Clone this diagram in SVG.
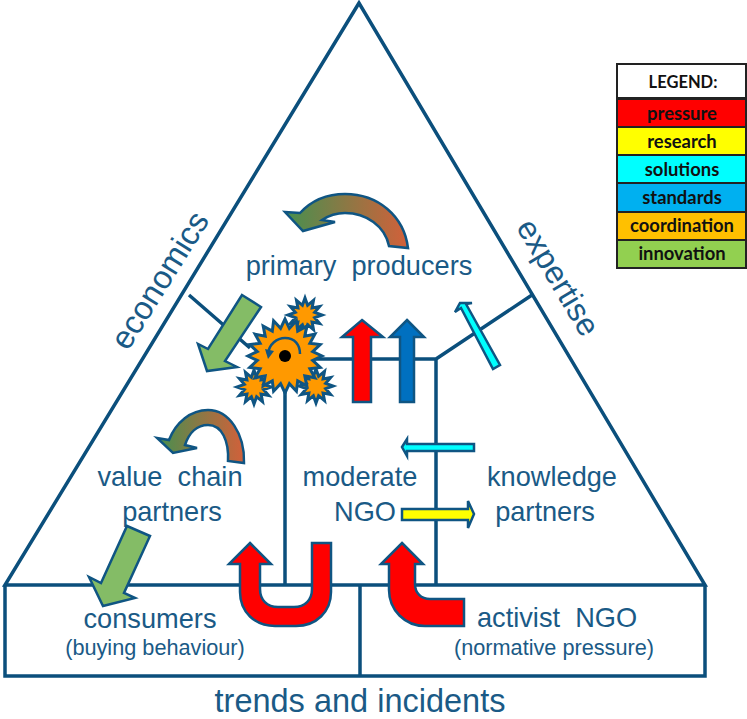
<svg xmlns="http://www.w3.org/2000/svg" width="747" height="719" viewBox="0 0 747 719">
<style>
.ln{fill:none;stroke:#0b4f7c;stroke-width:3.5}
.ar{stroke:#0f5583;stroke-width:2.5;stroke-linejoin:miter}
.lb{font-family:"Liberation Sans",Arial,sans-serif;fill:#1a5a86;font-size:27.2px;text-anchor:middle;white-space:pre}
.sm{font-size:21.7px}
.lg{font-family:Lato,"Open Sans",sans-serif;font-weight:700;font-size:18.4px;fill:#111;text-anchor:middle}
.gear{fill:#ff9900;stroke:#0f5583;stroke-width:3;stroke-linejoin:miter}
</style>
<defs>
<linearGradient id="cg" x1="0" y1="0" x2="1" y2="0"><stop offset="0" stop-color="#46904f"/><stop offset="1" stop-color="#d2603a"/></linearGradient>
<polygon id="star" class="gear" points="17,0 9.7,2.6 14.7,8.5 7.1,7.1 8.5,14.7 2.6,9.7 0,17 -2.6,9.7 -8.5,14.7 -7.1,7.1 -14.7,8.5 -9.7,2.6 -17,0 -9.7,-2.6 -14.7,-8.5 -7.1,-7.1 -8.5,-14.7 -2.6,-9.7 0,-17 2.6,-9.7 8.5,-14.7 7.1,-7.1 14.7,-8.5 9.7,-2.6"/>
</defs>
<g id="connectors">
<path class="ln" d="M359 3L5 585H705L359 3Z"/>
<path class="ln" d="M5 585V676H705V585M360 585V676"/>
<path class="ln" d="M189 295L250 348M285 385V585M315 359H436V585M436 359L532 295"/>
</g>
<g id="triangle-labels">
<text class="lb" transform="translate(169 286) rotate(-58)" style="font-size:32.5px">economics</text>
<text class="lb" transform="translate(549 283) rotate(59)" style="font-size:32px">expertise</text>
</g>
<g id="primary-producers">
<text class="lb" x="359" y="275">primary  producers</text>
<path class="ar" fill="url(#cg)" d="M285 212L300 213C312 200 328 194 345 194C378 194 404 216 408 248L389 246C385 226 366 213 345 213C336 213 328 216 322 220L335 222L303 231Z"/>
</g>
<g id="value-chain-partners">
<text class="lb" x="170" y="486">value  chain</text>
<text class="lb" x="172" y="521">partners</text>
<path class="ar" fill="url(#cg)" d="M157 438L169 440C176 422 191 410 208 410C229 410 245 434 244 463L228 461C229 441 222 425 208 425C197 425 189 433 185 445L197 448L173 453Z"/>
</g>
<g id="moderate-ngo">
<text class="lb" x="360" y="486">moderate</text>
<text class="lb" x="365" y="521">NGO</text>
</g>
<g id="knowledge-partners">
<text class="lb" x="552" y="486">knowledge</text>
<text class="lb" x="545" y="521">partners</text>
</g>
<g id="consumers">
<text class="lb" x="150" y="628">consumers</text>
<text class="lb sm" x="155" y="655">(buying behaviour)</text>
</g>
<g id="activist-ngo">
<text class="lb" x="557" y="627">activist  NGO</text>
<text class="lb sm" x="554" y="655">(normative pressure)</text>
</g>
<g id="trends">
<text class="lb" x="360" y="712" style="font-size:32.5px">trends and incidents</text>
</g>
<g id="coordination-gears">
<use href="#star" x="305" y="315"/>
<use href="#star" x="254" y="387"/>
<use href="#star" x="316" y="386"/>
<polygon class="gear" transform="translate(285 356)" points="37,0 27.7,4.4 35.2,11.4 24.9,12.7 29.9,21.8 19.8,19.8 21.8,29.9 12.7,24.9 11.4,35.2 4.4,27.7 0,37 -4.4,27.7 -11.4,35.2 -12.7,24.9 -21.8,29.9 -19.8,19.8 -29.9,21.8 -24.9,12.7 -35.2,11.4 -27.7,4.4 -37,0 -27.7,-4.4 -35.2,-11.4 -24.9,-12.7 -29.9,-21.8 -19.8,-19.8 -21.8,-29.9 -12.7,-24.9 -11.4,-35.2 -4.4,-27.7 0,-37 4.4,-27.7 11.4,-35.2 12.7,-24.9 21.8,-29.9 19.8,-19.8 29.9,-21.8 24.9,-12.7 35.2,-11.4 27.7,-4.4"/>
<path fill="none" stroke="#0f5583" stroke-width="2.5" d="M268 354C269 344 277 338 285 338C295 338 300 345 300 354"/>
<path fill="#0f5583" d="M265 349L274 351L268 359Z"/>
<circle cx="285" cy="356" r="6" fill="#000"/>
</g>
<g id="arrows">
<path class="ar" fill="#84bc66" d="M242 295L261 307L225 361L237 367L207 371L198 344L208 349Z"/>
<path class="ar" fill="#84bc66" d="M127 526L150 536L124 593L135 598L103 606L89 577L101 583Z"/>
<path class="ar" fill="#ff0000" d="M362 320L383 337H371V402H353V337H342Z"/>
<path class="ar" fill="#0070c0" d="M407 320L424 337H414V402H400V337H390Z"/>
<path class="ar" fill="#00ffff" stroke-width="2" d="M460 303L472 303L466 304L500 365L493 369L461 308L455 312Z"/>
<path class="ar" fill="#00ffff" stroke-width="2" d="M402 447L407 439V444H474V451H407V456Z"/>
<path class="ar" fill="#ffff00" stroke-width="2" d="M402 509H468V501L474 514L468 528V520H402Z"/>
<path class="ar" fill="#ff0000" d="M250 543L271 564H260V589C260 600 267 607 278 607H294C305 607 312 600 312 589V543H331V592C331 612 316 626 296 626H275C255 626 240 612 240 592V564H229Z"/>
<path class="ar" fill="#ff0000" d="M402 543L423 564H415V584C415 593 421 599 430 599H464V626H425C405 626 389 610 389 590V564H381Z"/>
</g>
<g id="legend">
<g stroke="#222" stroke-width="2">
<rect x="617" y="64" width="129" height="34" fill="#fff"/>
<rect x="617" y="99" width="129" height="28" fill="#ff0000"/>
<rect x="617" y="127" width="129" height="28" fill="#ffff00"/>
<rect x="617" y="155" width="129" height="28" fill="#00ffff"/>
<rect x="617" y="183" width="129" height="29" fill="#00b0f0"/>
<rect x="617" y="212" width="129" height="28" fill="#ffc000"/>
<rect x="617" y="240" width="129" height="28" fill="#92d050"/>
</g>
<text class="lg" x="683" y="88" style="font-size:16.5px">LEGEND:</text>
<text class="lg" x="682" y="120">pressure</text>
<text class="lg" x="682" y="148">research</text>
<text class="lg" x="682" y="176">solutions</text>
<text class="lg" x="682" y="204">standards</text>
<text class="lg" x="682" y="232">coordination</text>
<text class="lg" x="682" y="260">innovation</text>
</g>
</svg>
